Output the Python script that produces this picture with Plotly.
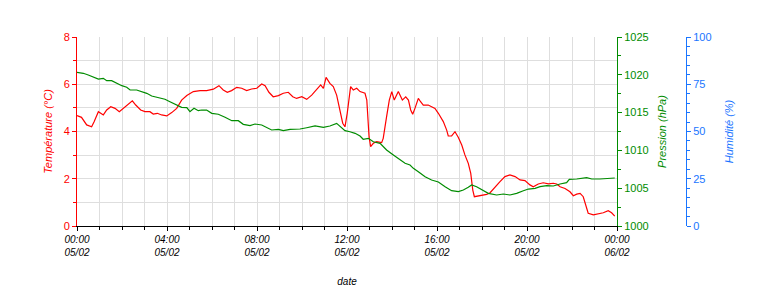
import plotly.graph_objects as go
import datetime as dt

# Temperature series (hours since 05/02 00:00, °C)
temp_hours = [0, 0.2, 0.43, 0.65, 0.76, 0.95, 1.17, 1.32, 1.5, 1.69, 1.88, 2.06, 2.24, 2.46, 2.61, 2.83,
              3.02, 3.24, 3.39, 3.57, 3.76, 3.99, 4.21, 4.43, 4.65, 4.88, 5.17, 5.47, 5.76, 6.06, 6.31,
              6.5, 6.68, 6.87, 7.1, 7.32, 7.54, 7.76, 7.99, 8.21, 8.36, 8.53, 8.72, 8.95, 9.17, 9.39,
              9.59, 9.76, 9.99, 10.21, 10.43, 10.65, 10.83, 10.95, 11.07, 11.24, 11.39, 11.54, 11.69,
              11.81, 11.91, 12.01, 12.16, 12.28, 12.43, 12.58, 12.8, 12.88, 12.98, 13.05, 13.17, 13.32,
              13.54, 13.61, 13.76, 13.88, 13.99, 14.1, 14.28, 14.46, 14.61, 14.73, 14.83, 14.92, 15.02,
              15.17, 15.27, 15.39, 15.61, 15.91, 16.06, 16.28, 16.43, 16.5, 16.65, 16.8, 16.95, 17.1,
              17.24, 17.39, 17.5, 17.59, 17.66, 17.84, 17.99, 18.21, 18.36, 18.58, 18.8, 19.02, 19.24,
              19.47, 19.69, 19.91, 20.13, 20.28, 20.5, 20.72, 20.95, 21.17, 21.32, 21.47, 21.69, 21.91,
              22.06, 22.21, 22.36, 22.5, 22.65, 22.72, 22.95, 23.17, 23.39, 23.61, 23.76, 23.9]
temp_values = [4.67, 4.6, 4.28, 4.2, 4.41, 4.84, 4.7, 4.91, 5.05, 4.98, 4.84, 4.98, 5.16, 5.3, 5.12, 4.91,
               4.84, 4.84, 4.74, 4.77, 4.7, 4.66, 4.8, 4.98, 5.33, 5.52, 5.69, 5.73, 5.73, 5.79, 5.94,
               5.76, 5.66, 5.73, 5.87, 5.83, 5.73, 5.8, 5.83, 6.01, 5.94, 5.66, 5.47, 5.52, 5.62, 5.66,
               5.47, 5.4, 5.47, 5.36, 5.54, 5.8, 5.97, 5.83, 6.29, 6.04, 5.9, 5.54, 4.91,
               4.35, 4.2, 4.77, 5.9, 5.76, 5.83, 5.69, 5.62, 5.33, 3.78, 3.36, 3.5, 3.57,
               3.53, 3.71, 4.63, 5.33, 5.69, 5.33, 5.69, 5.33, 5.47, 5.33, 4.91, 4.73, 4.98,
               5.4, 5.26, 5.12, 5.12, 4.98, 4.77, 4.42, 4.06, 3.81, 3.81, 3.99, 3.75, 3.43,
               3.01, 2.65, 2.23, 1.52, 1.24, 1.27, 1.31, 1.34, 1.41, 1.66, 1.88, 2.09, 2.16,
               2.09, 1.95, 1.92, 1.74, 1.66, 1.78, 1.83, 1.78, 1.81, 1.78, 1.66, 1.59, 1.45,
               1.28, 1.35, 1.38, 1.24, 0.82, 0.54, 0.47, 0.51, 0.56, 0.65, 0.56, 0.42]

# Pressure series (hours, hPa)
pres_hours = [0, 0.28, 0.5, 0.72, 0.95, 1.17, 1.32, 1.54, 1.76, 1.99, 2.21, 2.36, 2.65, 2.88, 3.1, 3.32,
              3.62, 3.91, 4.13, 4.43, 4.65, 4.88, 5.02, 5.2, 5.39, 5.54, 5.76, 5.99, 6.28, 6.58, 6.88,
              7.17, 7.39, 7.69, 7.91, 8.21, 8.43, 8.65, 8.95, 9.17, 9.47, 9.91, 10.21, 10.58, 10.95,
              11.24, 11.54, 11.72, 11.91, 12.13, 12.36, 12.58, 12.72, 12.95, 13.17, 13.47, 13.76, 14.06,
              14.36, 14.58, 14.8, 14.95, 15.17, 15.47, 15.76, 16.06, 16.36, 16.65, 16.95, 17.17, 17.39,
              17.54, 17.76, 17.99, 18.28, 18.65, 18.95, 19.24, 19.54, 19.84, 20.06, 20.36, 20.58, 20.88,
              21.17, 21.47, 21.76, 21.88, 22.21, 22.65, 22.88, 23.24, 23.54, 23.9]
pres_values = [1020.33, 1020.2, 1019.97, 1019.66, 1019.44, 1019.53, 1019.22, 1019.22, 1018.87, 1018.56,
               1018.35, 1017.99, 1017.99, 1017.77, 1017.55, 1017.2, 1017.02, 1016.76, 1016.44, 1016.0,
               1015.7, 1015.65, 1015.12, 1015.57, 1015.25, 1015.34, 1015.34, 1014.9, 1014.78, 1014.38,
               1013.93, 1013.93, 1013.45, 1013.27, 1013.49, 1013.36, 1013.06, 1012.7, 1012.79, 1012.61,
               1012.79, 1012.83, 1013.0, 1013.23, 1013.06, 1013.23, 1013.58, 1013.06, 1012.61, 1012.47,
               1012.26, 1011.9, 1011.47, 1011.6, 1011.15, 1010.93, 1010.05, 1009.39, 1008.73, 1008.29,
               1008.07, 1007.63, 1007.18, 1006.52, 1006.08, 1005.82, 1005.2, 1004.67, 1004.54, 1004.76,
               1005.12, 1005.42, 1005.2, 1004.85, 1004.32, 1004.1, 1004.23, 1004.1, 1004.32, 1004.67,
               1004.89, 1004.98, 1005.2, 1005.33, 1005.29, 1005.56, 1005.73, 1006.17, 1006.22, 1006.39,
               1006.22, 1006.22, 1006.26, 1006.35]

base = dt.datetime(2024, 2, 5)
def to_dates(hours):
    return [base + dt.timedelta(hours=h) for h in hours]

RED = "#ff0000"
GREEN = "#008c00"
BLUE = "#1a75ff"
GRID = "#dedede"
FONT = "Liberation Sans, Arial, sans-serif"

fig = go.Figure()
fig.add_trace(go.Scatter(x=to_dates(temp_hours), y=temp_values, mode="lines",
                         line=dict(color=RED, width=1.2), yaxis="y", showlegend=False))
fig.add_trace(go.Scatter(x=to_dates(pres_hours), y=pres_values, mode="lines",
                         line=dict(color=GREEN, width=1.2), yaxis="y2", showlegend=False))
fig.add_trace(go.Scatter(x=[base], y=[None], mode="lines", yaxis="y3", showlegend=False))

W, H = 758, 293
x0, x1 = 77, 617
fig.update_layout(
    width=W, height=H,
    margin=dict(l=0, r=0, t=37, b=67),
    paper_bgcolor="white", plot_bgcolor="white",
    font=dict(family=FONT, size=10, color="black"),
    xaxis=dict(
        domain=[x0 / W, x1 / W], automargin=False,
        type="date",
        range=[base, base + dt.timedelta(hours=24)],
        dtick=4 * 3600000, tick0=base,
        tickformat="%H:%M<br>%d/%m",
        tickfont=dict(size=10, style="italic"),
        showgrid=True, gridcolor=GRID, gridwidth=1,
        minor=dict(dtick=3600000, showgrid=True, gridcolor=GRID, ticks="outside", ticklen=3, tickcolor="black"),
        ticks="outside", ticklen=4, tickcolor="black",
        showline=True, linecolor="black", linewidth=1,
        title=dict(text="<i>date</i>", font=dict(size=10), standoff=20),
        zeroline=False,
    ),
    yaxis=dict(
        range=[0, 8], dtick=2, automargin=False,
        tickfont=dict(color=RED, size=11),
        showgrid=True, gridcolor=GRID,
        minor=dict(dtick=1, showgrid=True, gridcolor=GRID, ticks="outside", ticklen=3, tickcolor=RED),
        ticks="outside", ticklen=4, tickcolor=RED,
        showline=True, linecolor=RED, linewidth=1,
        title=dict(text="<i>Température (°C)</i>", font=dict(color=RED, size=11), standoff=8),
        zeroline=False,
    ),
    yaxis2=dict(
        range=[1000, 1025], dtick=5, overlaying="y", side="right", anchor="x", automargin=False,
        tickfont=dict(color=GREEN, size=11),
        showgrid=False,
        minor=dict(dtick=2.5, ticks="outside", ticklen=3, tickcolor=GREEN),
        ticks="outside", ticklen=4, tickcolor=GREEN,
        showline=True, linecolor=GREEN, linewidth=1,
        title=dict(text="<i>Pression (hPa)</i>", font=dict(color=GREEN, size=11), standoff=10),
        zeroline=False,
    ),
    yaxis3=dict(
        range=[0, 100], dtick=25, overlaying="y", side="right", anchor="free", position=686 / W,
        automargin=False,
        tickfont=dict(color=BLUE, size=11),
        showgrid=False,
        minor=dict(dtick=5, ticks="outside", ticklen=3, tickcolor=BLUE),
        ticks="outside", ticklen=4, tickcolor=BLUE,
        showline=True, linecolor=BLUE, linewidth=1,
        title=dict(text="<i>Humidité (%)</i>", font=dict(color=BLUE, size=11), standoff=14),
        zeroline=False,
    ),
)

fig.write_html("out.html")
